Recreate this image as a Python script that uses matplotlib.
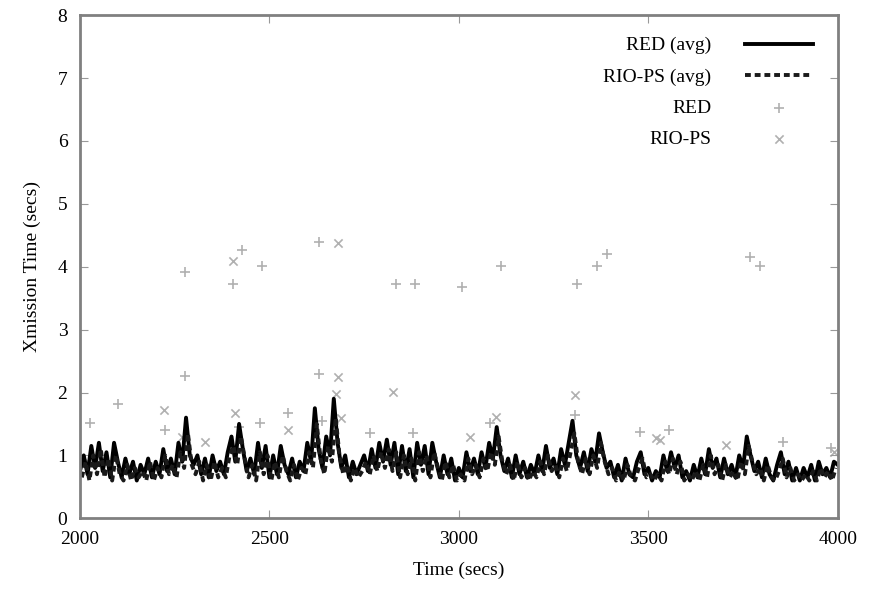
import numpy as np
import matplotlib.pyplot as plt

plt.rcParams['font.family'] = ['Liberation Serif', 'DejaVu Serif']
plt.rcParams['font.size'] = 14

# running averages, one sample every 10 s
t_red = np.arange(2000, 4001, 10)
red_avg = [0.75, 1.0, 0.7, 1.15, 0.8, 1.2, 0.75, 1.05, 0.65, 1.2,
           0.9, 0.65, 0.95, 0.7, 0.9, 0.6, 0.85, 0.7, 0.95, 0.65,
           0.9, 0.7, 1.1, 0.75, 0.95, 0.7, 1.2, 0.9, 1.6, 1.0,
           0.85, 1.0, 0.7, 0.95, 0.65, 1.0, 0.75, 0.9, 0.7, 1.05,
           1.3, 0.9, 1.5, 1.1, 0.75, 0.95, 0.7, 1.2, 0.8, 1.15,
           0.65, 1.0, 0.7, 1.15, 0.85, 0.7, 0.95, 0.65, 0.9, 0.75,
           1.2, 0.9, 1.75, 1.1, 0.8, 1.3, 1.0, 1.9, 1.2, 0.8,
           1.0, 0.65, 0.9, 0.7, 0.85, 1.0, 0.75, 1.1, 0.8, 1.2,
           0.9, 1.25, 0.85, 1.2, 0.7, 1.15, 0.75, 1.1, 0.65, 1.2,
           0.85, 1.15, 0.7, 1.2, 0.9, 0.65, 1.0, 0.7, 0.95, 0.6,
           0.8, 0.65, 1.05, 0.75, 0.95, 0.7, 1.05, 0.8, 1.2, 0.95,
           1.45, 1.0, 0.75, 0.95, 0.65, 1.0, 0.7, 0.9, 0.65, 0.85,
           0.7, 1.0, 0.75, 1.15, 0.8, 0.95, 0.7, 1.1, 0.85, 1.2,
           1.55, 1.0, 0.8, 1.05, 0.75, 1.1, 0.9, 1.35, 1.05, 0.8,
           0.9, 0.65, 0.85, 0.6, 0.95, 0.7, 0.65, 0.9, 1.05, 0.7,
           0.8, 0.6, 0.75, 0.65, 1.0, 0.75, 1.05, 0.8, 1.0, 0.65,
           0.75, 0.6, 0.85, 0.65, 0.95, 0.7, 1.1, 0.8, 0.95, 0.65,
           0.95, 0.7, 0.85, 0.65, 1.0, 0.8, 1.3, 1.0, 0.75, 0.9,
           0.65, 0.95, 0.7, 0.6, 0.85, 1.05, 0.7, 0.9, 0.6, 0.8,
           0.6, 0.8, 0.65, 0.85, 0.6, 0.9, 0.7, 0.8, 0.65, 0.9,
           0.85]

t_rio = np.arange(2005, 4000, 10)
rio_avg = [0.65, 0.9, 0.6, 1.0, 0.7, 1.1, 0.65, 0.95, 0.6, 1.0,
           0.7, 0.6, 0.85, 0.6, 0.8, 0.65, 0.75, 0.6, 0.9, 0.6,
           0.8, 0.65, 1.0, 0.7, 0.85, 0.65, 1.05, 0.8, 1.35, 0.85,
           0.7, 0.9, 0.6, 0.85, 0.6, 0.9, 0.65, 0.8, 0.65, 1.0,
           1.15, 0.85, 1.3, 0.95, 0.65, 0.85, 0.6, 1.05, 0.7, 1.0,
           0.6, 0.9, 0.65, 1.0, 0.75, 0.6, 0.85, 0.6, 0.8, 0.7,
           1.05, 0.8, 1.5, 0.95, 0.7, 1.15, 0.9, 1.6, 1.0, 0.7,
           0.85, 0.6, 0.8, 0.65, 0.75, 0.9, 0.7, 1.0, 0.75, 1.05,
           0.8, 1.1, 0.75, 1.05, 0.65, 1.0, 0.7, 0.95, 0.6, 1.05,
           0.75, 1.0, 0.65, 1.05, 0.8, 0.6, 0.9, 0.65, 0.85, 0.6,
           0.7, 0.6, 0.95, 0.7, 0.85, 0.65, 0.95, 0.75, 1.05, 0.85,
           1.3, 0.9, 0.7, 0.85, 0.6, 0.9, 0.65, 0.8, 0.6, 0.75,
           0.65, 0.9, 0.7, 1.0, 0.75, 0.85, 0.65, 0.95, 0.75, 1.05,
           1.35, 0.9, 0.7, 0.95, 0.7, 1.0, 0.8, 1.2, 0.9, 0.7,
           0.8, 0.6, 0.75, 0.6, 0.85, 0.65, 0.6, 0.8, 0.95, 0.65,
           0.7, 0.6, 0.7, 0.6, 0.9, 0.7, 0.95, 0.7, 0.9, 0.6,
           0.7, 0.6, 0.75, 0.6, 0.85, 0.65, 1.0, 0.7, 0.85, 0.6,
           0.85, 0.65, 0.75, 0.6, 0.9, 0.7, 1.15, 0.9, 0.7, 0.8,
           0.6, 0.85, 0.65, 0.6, 0.75, 0.95, 0.65, 0.8, 0.6, 0.7,
           0.6, 0.7, 0.6, 0.75, 0.6, 0.8, 0.65, 0.75, 0.6, 0.8]

# individual transmissions
red_x = [2100, 2026, 2278, 2278, 2403, 2428, 2480, 2630, 2630, 2550,
         2765, 2833, 2884, 2879, 3009, 3110, 3082, 3312, 3306, 3364,
         3390, 3477, 3556, 3768, 3794, 3855, 3983, 2474, 2225, 2420,
         2640]
red_y = [1.81, 1.51, 3.92, 2.26, 3.72, 4.27, 4.01, 4.39, 2.30, 1.67,
         1.35, 3.72, 3.72, 1.35, 3.68, 4.01, 1.51, 3.72, 1.64, 4.01,
         4.21, 1.37, 1.40, 4.16, 4.01, 1.21, 1.11, 1.51, 1.40, 1.45,
         1.55]

rio_x = [2223, 2329, 2403, 2408, 2682, 2682, 2677, 2550, 2826, 3099,
         3029, 3306, 3521, 3530, 3705, 2020, 3990, 2690, 2270]
rio_y = [1.72, 1.21, 4.09, 1.67, 4.37, 2.25, 1.98, 1.40, 2.01, 1.61,
         1.29, 1.96, 1.27, 1.24, 1.16, 0.9, 1.05, 1.6, 1.3]

fig = plt.figure(figsize=(8.69, 6.09), dpi=100)
ax = fig.add_axes([0.092, 0.149, 0.872, 0.826])

ax.plot(t_red, red_avg, color='black', lw=2.8, label='RED (avg)')
ax.plot(t_rio, rio_avg, color='#1a1a1a', lw=2.8, ls=(0, (1.5, 1)),
        label='RIO-PS (avg)')
ax.scatter(red_x, red_y, marker='+', s=45, color='#b0b0b0', lw=1.2, label='RED')
ax.scatter(rio_x, rio_y, marker='x', s=35, color='#b0b0b0', lw=1.2, label='RIO-PS')

ax.set_xlim(2000, 4000)
ax.set_ylim(0, 8)
ax.set_xticks([2000, 2500, 3000, 3500, 4000])
ax.set_yticks(range(9))
ax.tick_params(direction='in', top=True, right=True, length=6, color='#999999',
               pad=9)
for s in ax.spines.values():
    s.set_color('#808080')
    s.set_linewidth(2)

ax.set_xlabel('Time (secs)', labelpad=10)
ax.set_ylabel('Xmission Time (secs)', labelpad=12)

ax.legend(loc='upper right', frameon=False, markerfirst=False, handlelength=3.5,
          labelspacing=0.7, handletextpad=1.7, bbox_to_anchor=(0.99, 0.992))

fig.savefig('out.png', dpi=100)
